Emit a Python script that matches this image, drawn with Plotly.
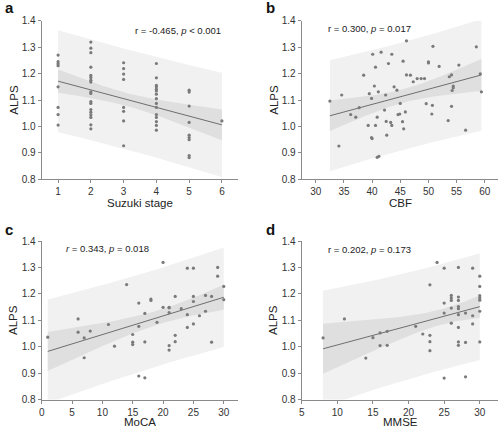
import numpy as np
import plotly.graph_objects as go

# ---------------- data ----------------
suzuki_x = [1]*8 + [2]*18 + [3]*8 + [4]*15 + [5]*9 + [6]
suzuki_y = [1.27, 1.245, 1.237, 1.23, 1.15, 1.072, 1.045, 1.005,
            1.319, 1.296, 1.279, 1.224, 1.193, 1.185, 1.175, 1.168, 1.131, 1.125,
            1.094, 1.087, 1.064, 1.054, 1.044, 1.034, 1.006, 0.991,
            1.241, 1.219, 1.198, 1.178, 1.072, 1.057, 1.021, 0.927,
            1.238, 1.184, 1.155, 1.15, 1.141, 1.134, 1.122, 1.105, 1.087, 1.072,
            1.045, 1.034, 1.018, 1.004, 0.986,
            1.137, 1.130, 1.077, 1.015, 0.967, 0.958, 0.950, 0.890, 0.882,
            1.021]

cbf_x = [32.5, 34.1, 34.6, 36.2, 37.1, 37.7, 38.5, 39.3, 39.5, 39.9, 40.1, 40.0, 39.9,
         40.4, 40.6, 40.6, 40.9, 41.1, 40.9, 41.2, 41.6, 42.4, 42.6, 42.5, 42.9, 43.3,
         43.5, 42.2, 43.5, 43.9, 44.4, 44.6, 44.9, 45.0, 45.4, 45.5, 45.6, 45.9, 46.1,
         46.1, 46.8, 47.3, 48.0, 48.7, 49.3, 49.6, 50.0, 50.0, 50.6, 50.7, 50.8, 51.9,
         53.5, 53.7, 54.1, 54.1, 54.4, 54.4, 54.2, 55.4, 56.6, 58.5, 59.2, 59.4]
cbf_y = [1.096, 0.926, 1.119, 1.045, 1.035, 1.071, 1.194, 1.004, 1.124, 1.106, 1.273, 0.954, 0.958,
         1.153, 1.224, 1.004, 1.035, 1.131, 0.883, 0.887, 1.281, 1.119, 0.967, 1.019, 1.238, 1.015,
         1.004, 1.062, 1.273, 1.150, 1.137, 1.045, 1.047, 1.087, 1.018, 1.247, 0.991, 1.055, 1.324,
         1.195, 1.194, 1.169, 1.181, 1.181, 1.181, 1.086, 1.244, 1.240, 1.047, 1.080, 1.303, 1.227,
         1.022, 1.188, 1.195, 1.076, 1.153, 1.146, 1.136, 1.232, 0.986, 1.301, 1.199, 1.131]

moca_x = [1, 6, 6, 7, 7, 8, 11, 12, 14, 15, 15, 15, 16, 16, 16, 17, 17, 17, 18, 18,
          19, 20, 20, 21, 21, 21, 21, 21, 22, 22, 22, 23, 24, 24, 24, 25, 25, 25, 25,
          26, 27, 27, 28, 28, 29, 29, 30, 30]
moca_y = [1.036, 1.105, 1.055, 1.033, 0.958, 1.059, 1.084, 1.002, 1.235, 1.046, 1.017, 1.008,
          1.165, 1.077, 0.889, 1.126, 1.018, 0.882, 1.180, 1.175, 1.092, 1.319, 1.149, 1.149,
          1.147, 1.129, 1.004, 0.987, 1.190, 1.043, 1.019, 1.144, 1.297, 1.121, 1.073, 1.297,
          1.190, 1.171, 1.086, 1.117, 1.194, 1.134, 1.190, 1.017, 1.300, 1.267, 1.228, 1.178]

mmse_x = [8, 11, 14, 15, 16, 16, 17, 17, 21, 22, 23, 23, 23, 23, 24, 25, 25, 25, 25,
          26, 26, 26, 26, 26, 27, 27, 27, 27, 27, 27, 27, 27, 27, 28, 28, 28, 29, 29, 29,
          30, 30, 30, 30, 30, 30, 30]
mmse_y = [1.033, 1.105, 0.957, 1.034, 1.052, 1.004, 1.058, 1.005, 1.077, 1.048, 1.234, 1.043,
          1.019, 0.985, 1.319, 1.297, 1.165, 1.127, 0.881, 1.194, 1.184, 1.175, 1.146, 1.089,
          1.300, 1.188, 1.175, 1.152, 1.144, 1.121, 1.073, 1.018, 1.005, 1.127, 1.016, 0.886,
          1.297, 1.117, 1.086, 1.267, 1.228, 1.193, 1.184, 1.176, 1.134, 1.018]

panels = [
    dict(letter="a", x=suzuki_x, y=suzuki_y, xtitle="Suzuki stage",
         label="r = -0.465, <i>p</i> < 0.001", xrange=[0.5, 6.5],
         xticks=[1, 2, 3, 4, 5, 6]),
    dict(letter="b", x=cbf_x, y=cbf_y, xtitle="CBF",
         label="r = 0.300, <i>p</i> = 0.017", xrange=[27.5, 62.4],
         xticks=[30, 35, 40, 45, 50, 55, 60]),
    dict(letter="c", x=moca_x, y=moca_y, xtitle="MoCA",
         label="<i>r</i> = 0.343, <i>p</i> = 0.018", xrange=[0, 32.4],
         xticks=[0, 5, 10, 15, 20, 25, 30]),
    dict(letter="d", x=mmse_x, y=mmse_y, xtitle="MMSE",
         label="r = 0.202, <i>p</i> = 0.173", xrange=[5, 32.6],
         xticks=[5, 10, 15, 20, 25, 30]),
]

W, H = 500, 430
def px(x):
    return x / W
def py(y):
    return 1 - y / H

# plot area boxes in pixels: (left, right, top, bottom)
boxes = [(41.7, 238.3, 20.7, 179.3), (301.7, 498.3, 20.7, 179.3),
         (41.7, 238.3, 241.0, 399.5), (301.7, 498.3, 241.0, 399.5)]
label_pos = [(178, 31), (369, 29), (107, 248), (369, 249)]
letter_pos = [(9, 8), (270, 8), (9, 229), (270, 229)]
xtitle_y = [203, 203, 421.5, 421.5]

fig = go.Figure()
annotations = []
axis_col = "#8a8a8a"
text_col = "#333333"

for i, p in enumerate(panels):
    n = i + 1
    xa = "x" if n == 1 else f"x{n}"
    ya = "y" if n == 1 else f"y{n}"
    x = np.array(p["x"], float)
    y = np.array(p["y"], float)
    N = len(x)
    b1, b0 = np.polyfit(x, y, 1)
    resid = y - (b0 + b1 * x)
    s = np.sqrt(np.sum(resid ** 2) / (N - 2))
    df = N - 2
    t = 1.96 + 2.4 / df
    xm = x.mean()
    sxx = np.sum((x - xm) ** 2)
    xs = np.linspace(x.min(), x.max(), 60)
    yh = b0 + b1 * xs
    se_m = s * np.sqrt(1 / N + (xs - xm) ** 2 / sxx)
    se_p = s * np.sqrt(1 + 1 / N + (xs - xm) ** 2 / sxx)

    fig.add_trace(go.Scatter(
        x=np.concatenate([xs, xs[::-1]]),
        y=np.concatenate([yh + t * se_p, (yh - t * se_p)[::-1]]),
        fill="toself", fillcolor="#f1f1f1", line=dict(width=0),
        mode="lines", hoverinfo="skip", showlegend=False, xaxis=xa, yaxis=ya))
    fig.add_trace(go.Scatter(
        x=np.concatenate([xs, xs[::-1]]),
        y=np.concatenate([yh + t * se_m, (yh - t * se_m)[::-1]]),
        fill="toself", fillcolor="#dfdfdf", line=dict(width=0),
        mode="lines", hoverinfo="skip", showlegend=False, xaxis=xa, yaxis=ya))
    fig.add_trace(go.Scatter(
        x=xs, y=yh, mode="lines", line=dict(color="#6e6e6e", width=1),
        showlegend=False, xaxis=xa, yaxis=ya))
    fig.add_trace(go.Scatter(
        x=x, y=y, mode="markers",
        marker=dict(size=3.2, color="#7a7a7a"),
        showlegend=False, xaxis=xa, yaxis=ya))

    l, r, tp, bt = boxes[i]
    common = dict(showline=True, linecolor=axis_col, linewidth=1, ticks="outside",
                  tickcolor=axis_col, ticklen=3, showgrid=False, zeroline=False,
                  automargin=False,
                  tickfont=dict(family="Liberation Sans, Arial", size=10, color=text_col))
    fig.update_layout(**{
        ("xaxis" if n == 1 else f"xaxis{n}"): dict(
            domain=[px(l), px(r)], anchor=ya, range=p["xrange"],
            tickvals=p["xticks"], **common),
        ("yaxis" if n == 1 else f"yaxis{n}"): dict(
            domain=[py(bt), py(tp)], anchor=xa, range=[0.8, 1.4],
            tickvals=[0.8, 0.9, 1.0, 1.1, 1.2, 1.3, 1.4],
            ticktext=["0.8", "0.9", "1.0", "1.1", "1.2", "1.3", "1.4"], **common),
    })

    annotations.append(dict(x=px(label_pos[i][0]), y=py(label_pos[i][1]), xref="paper", yref="paper",
                            text=p["label"], showarrow=False, xanchor="center", yanchor="middle",
                            font=dict(family="Liberation Sans, Arial", size=9.5, color="#222")))
    annotations.append(dict(x=px(letter_pos[i][0]), y=py(letter_pos[i][1]), xref="paper", yref="paper",
                            text="<b>" + p["letter"] + "</b>", showarrow=False,
                            xanchor="center", yanchor="middle",
                            font=dict(family="Liberation Sans, Arial", size=15, color="#111")))
    annotations.append(dict(x=px((l + r) / 2), y=py(xtitle_y[i]), xref="paper", yref="paper",
                            text=p["xtitle"], showarrow=False, xanchor="center", yanchor="middle",
                            font=dict(family="Liberation Sans, Arial", size=11.5, color="#222")))
    annotations.append(dict(x=px(l - 28), y=py((tp + bt) / 2), xref="paper", yref="paper",
                            text="ALPS", showarrow=False, textangle=-90,
                            xanchor="center", yanchor="middle",
                            font=dict(family="Liberation Sans, Arial", size=11.5, color="#222")))

fig.update_layout(width=W, height=H, margin=dict(l=0, r=0, t=0, b=0, autoexpand=False),
                  paper_bgcolor="white", plot_bgcolor="white",
                  annotations=annotations, showlegend=False)
fig.write_html("out.html", config={"displayModeBar": False},
               post_script="document.body.style.margin='0px';document.body.style.overflow='hidden';")
